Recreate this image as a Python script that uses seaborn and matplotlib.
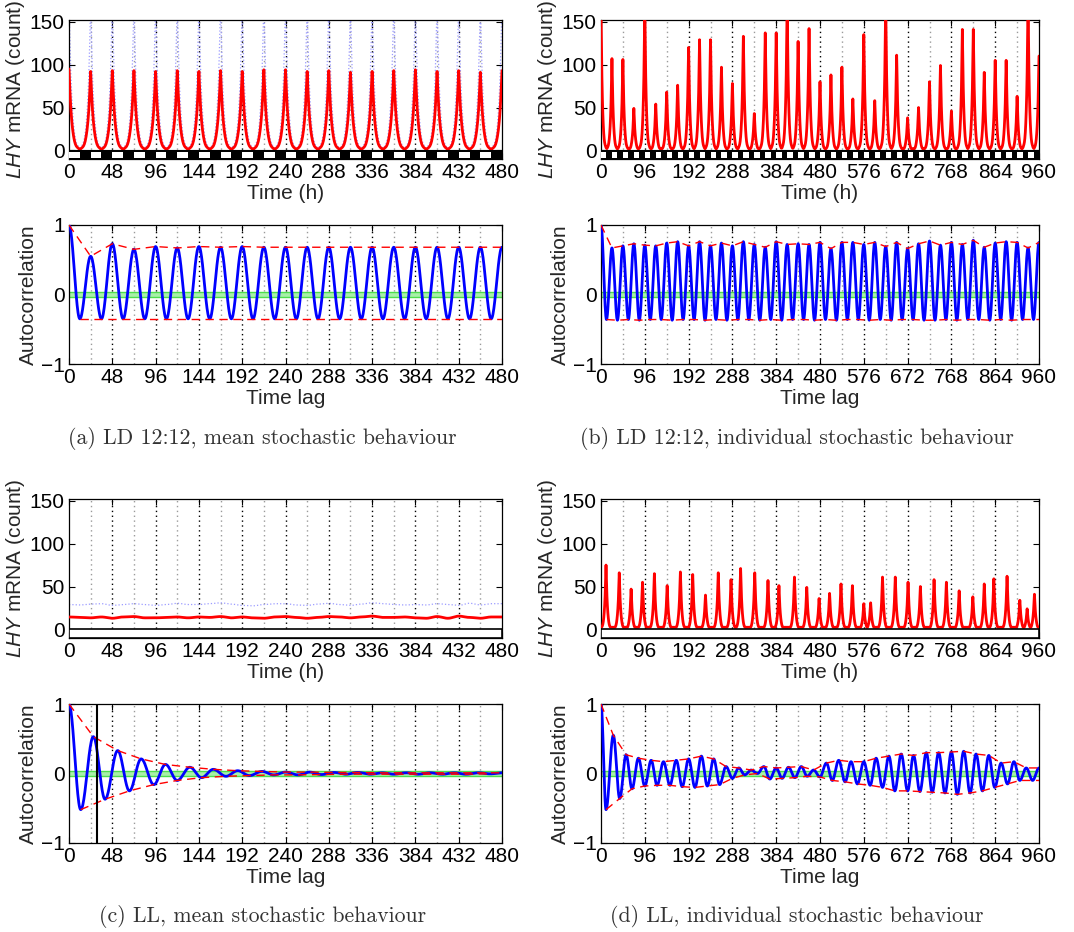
import numpy as np
import matplotlib
matplotlib.use("Agg")
import matplotlib.pyplot as plt
import seaborn as sns
from matplotlib.patches import Rectangle

sns.set_theme(style="white")
plt.rcParams["font.family"] = ["Liberation Sans", "DejaVu Sans"]
plt.rcParams["mathtext.fontset"] = "custom"
plt.rcParams["mathtext.rm"] = "Liberation Sans"
plt.rcParams["mathtext.it"] = "Liberation Sans:italic"

# ------------------------------------------------------------------ data
# one LHY spike, fraction of its peak, at 0..12 h from the peak
spike_offset_h = [0, 1, 2, 3, 4, 5, 6, 7, 8, 9, 10, 11, 12]
spike_shape = [1.0, 0.74, 0.52, 0.37, 0.26, 0.18, 0.12, 0.08, 0.055, 0.04, 0.03, 0.02, 0.015]

# (a) LD 12:12 mean
a_peak_t = list(range(0, 481, 24))
a_mean_peak = [95, 92, 93, 93, 92, 93, 92, 93, 92, 94, 94, 92, 93, 91, 92, 93, 94, 92, 93, 91, 93]
a_upper_peak = [175, 172, 174, 173, 172, 174, 172, 173, 172, 175, 174, 172, 173, 171, 172, 173, 174, 172, 173, 171, 173]
a_acf_peak_t = list(range(0, 481, 24))
a_acf_peak = [1.0, 0.55, 0.73, 0.65, 0.69, 0.67, 0.69, 0.68, 0.69, 0.68, 0.68,
              0.68, 0.68, 0.68, 0.68, 0.68, 0.68, 0.68, 0.68, 0.68, 0.68]
a_acf_trough_t = list(range(12, 480, 24))
a_acf_trough = [-0.35, -0.35, -0.35, -0.35, -0.35, -0.35, -0.35, -0.35, -0.35, -0.35,
                -0.35, -0.35, -0.35, -0.35, -0.35, -0.35, -0.35, -0.35, -0.35, -0.35]

# (b) LD 12:12 individual
b_peak_t = list(range(0, 961, 24))
b_peak = [165, 107, 106, 49, 168, 54, 68, 76, 120, 129, 129, 97, 78, 133, 43, 137, 137, 170,
          127, 142, 80, 88, 97, 60, 135, 58, 172, 111, 38, 50, 80, 99, 46, 141, 141, 91,
          105, 105, 63, 175, 110]
b_acf_peak_t = list(range(0, 961, 24))
b_acf_peak = [1.0, 0.67, 0.70, 0.73, 0.71, 0.70, 0.74, 0.76, 0.70, 0.76, 0.70, 0.74, 0.70, 0.76,
              0.72, 0.68, 0.76, 0.72, 0.73, 0.72, 0.75, 0.66, 0.75, 0.75, 0.72, 0.75, 0.69,
              0.75, 0.66, 0.73, 0.77, 0.71, 0.75, 0.72, 0.78, 0.68, 0.74, 0.76, 0.75, 0.67, 0.75]
b_acf_trough_t = list(range(12, 960, 24))
b_acf_trough = [-0.36, -0.37, -0.36, -0.37, -0.36, -0.36, -0.37, -0.36, -0.36, -0.37,
                -0.36, -0.37, -0.36, -0.36, -0.37, -0.36, -0.37, -0.36, -0.36, -0.37,
                -0.36, -0.37, -0.36, -0.36, -0.37, -0.36, -0.37, -0.36, -0.36, -0.37,
                -0.37, -0.36, -0.37, -0.36, -0.36, -0.37, -0.36, -0.37, -0.36, -0.36]

# (c) LL mean (sampled every 12 h)
c_t = list(range(0, 481, 12))
c_mean = [14.5, 14, 13.5, 14.5, 13, 14.5, 15, 13.5, 13.5, 14, 14.5, 13.5, 14.5, 14, 15, 13.5,
          14.5, 13.5, 13, 14.5, 15, 14, 13, 14, 15, 14.5, 13.5, 14.5, 15.5, 14, 14, 14.5,
          13.5, 13, 15, 13, 15.5, 14, 13, 14.5, 14.5]
c_upper = [29, 28.5, 29.5, 30, 28, 29, 30, 29, 28, 29, 30.5, 29, 29, 30, 31, 29.5, 28,
           27.5, 29, 30, 30, 28.5, 28, 29.5, 30.5, 29, 28, 29.5, 31, 30, 29, 28.5, 29,
           28.5, 30, 29, 28, 30.5, 28.5, 30, 30]
c_acf_t = [0, 13, 27, 40, 54, 67, 80, 94, 107, 120, 134, 147, 160, 174, 187, 200, 214, 227,
           240, 254, 267, 280, 294, 307, 320, 334, 347, 360, 374, 387, 400, 414, 427, 440,
           454, 467, 480]
c_acf = [1.0, -0.52, 0.53, -0.37, 0.33, -0.25, 0.21, -0.16, 0.13, -0.10, 0.09, -0.06, 0.06,
         -0.04, 0.04, -0.03, 0.03, -0.02, 0.02, -0.02, 0.02, -0.015, 0.015, -0.01, 0.015,
         -0.01, 0.01, -0.01, 0.01, -0.01, 0.01, -0.01, 0.01, -0.01, 0.01, -0.005, 0.01]
c_marker_lag = 31

# (d) LL individual
d_peak_t = [11, 40, 66, 91, 117, 145, 174, 201, 229, 257, 285, 306, 337, 366, 390, 424, 451,
            478, 501, 526, 551, 576, 591, 617, 645, 673, 700, 730, 757, 785, 815, 840, 861,
            890, 918, 934, 950]
d_peak = [75, 66, 47, 55, 65, 51, 67, 64, 40, 66, 58, 71, 66, 57, 51, 61, 49, 36, 42, 53, 51,
          30, 31, 61, 61, 55, 50, 58, 55, 45, 38, 53, 59, 62, 34, 24, 41]
d_floor = 2.5
d_acf_peak_t = [0, 27, 55, 82, 110, 137, 165, 192, 220, 247, 274, 302, 329, 357, 384, 411,
                439, 466, 494, 521, 548, 576, 603, 631, 658, 685, 713, 740, 768, 795, 822,
                850, 877, 905, 932, 960]
d_acf_peak = [1.0, 0.55, 0.27, 0.22, 0.19, 0.17, 0.19, 0.21, 0.25, 0.21, 0.10, 0.08, 0.05,
              0.10, 0.08, 0.09, 0.10, 0.05, 0.15, 0.19, 0.17, 0.17, 0.22, 0.25, 0.28, 0.26,
              0.30, 0.30, 0.31, 0.32, 0.28, 0.26, 0.15, 0.17, 0.08, 0.08]
d_acf_trough_t = [11, 41, 68, 96, 123, 151, 178, 206, 233, 260, 288, 315, 343, 370, 397, 425,
                  452, 480, 507, 535, 562, 590, 617, 644, 672, 699, 726, 754, 781, 809, 836,
                  863, 891, 918, 946]
d_acf_trough = [-0.52, -0.36, -0.22, -0.18, -0.17, -0.17, -0.19, -0.20, -0.18, -0.16, -0.07,
                -0.02, 0.0, -0.08, -0.07, -0.06, -0.04, -0.05, -0.10, -0.12, -0.15, -0.17,
                -0.20, -0.25, -0.25, -0.26, -0.27, -0.28, -0.30, -0.28, -0.25, -0.20, -0.15,
                -0.10, -0.10]

captions = ["(a) LD 12:12, mean stochastic behaviour",
            "(b) LD 12:12, individual stochastic behaviour",
            "(c) LL, mean stochastic behaviour",
            "(d) LL, individual stochastic behaviour"]

RED, BLUE, LBLUE = "#ff0000", "#0000ff", "#9c9cff"


# ------------------------------------------------------------------ helpers
def spikes(peak_t, peak_h, t_end, floor=0.0):
    t = np.arange(0, t_end + 1)
    y = np.full(t.shape, floor, dtype=float)
    shp = np.array(spike_shape)
    for tp, h in zip(peak_t, peak_h):
        d = np.abs(t - tp)
        m = d <= spike_offset_h[-1]
        y[m] = np.maximum(y[m], h * shp[d[m]])
    return t, y


def swing(ext_t, ext_v, n=24):
    ts, ys = [], []
    for t0, v0, t1, v1 in zip(ext_t[:-1], ext_v[:-1], ext_t[1:], ext_v[1:]):
        s = np.linspace(0, 1, n + 1)[:-1]
        ts.append(t0 + (t1 - t0) * s)
        ys.append(v0 + (v1 - v0) * (1 - np.cos(np.pi * s)) / 2)
    ts.append([ext_t[-1]])
    ys.append([ext_v[-1]])
    return np.concatenate(ts), np.concatenate(ys)


def merge(pt, pv, tt, tv):
    pairs = sorted(list(zip(pt, pv)) + list(zip(tt, tv)))
    return [p[0] for p in pairs], [p[1] for p in pairs]


def style(ax, xmax, major, top_row):
    ax.set_xlim(0, xmax)
    ax.set_xticks(list(range(0, xmax + 1, major)))
    for x in range(major // 2, xmax, major // 2):
        col = "black" if x % major == 0 else "#9a9a9a"
        ax.axvline(x, color=col, ls=(0, (1, 2.5)), lw=1.0, zorder=1)
    if top_row:
        ax.set_ylim(-10, 152)
        ax.set_yticks([0, 50, 100, 150])
    else:
        ax.set_ylim(-1, 1)
        ax.set_yticks([-1, 0, 1])
    ax.tick_params(direction="in", length=4, width=0.8, top=True, right=True,
                   bottom=True, left=True, colors="black", labelsize=15, pad=3)
    for sp in ax.spines.values():
        sp.set_color("black")
        sp.set_linewidth(0.9)
    ax.set_facecolor("white")


def ld_bar(ax, xmax):
    ax.add_patch(Rectangle((0, -10), xmax, 10, facecolor="black", edgecolor="black",
                           lw=0.8, zorder=4))
    for s in range(0, xmax, 24):
        ax.add_patch(Rectangle((s, -8.5), 12, 7, facecolor="white", edgecolor="none",
                               zorder=5))


def ll_bar(ax, xmax):
    ax.add_patch(Rectangle((0, -10), xmax, 10, facecolor="white", edgecolor="black",
                           lw=1.2, zorder=4))


def acf_common(ax, t_ext, v_ext, peaks_t, peaks_v, tr_t, tr_v):
    ax.axhspan(-0.03, 0.03, color="#a8f0a8", zorder=2, lw=0)
    ax.axhline(0.03, color="#4ddd4d", lw=1.0, zorder=2)
    ax.axhline(-0.03, color="#4ddd4d", lw=1.0, zorder=2)
    tt, yy = swing(t_ext, v_ext)
    sns.lineplot(x=tt, y=yy, ax=ax, color=BLUE, lw=2.0, zorder=3)
    sns.lineplot(x=peaks_t, y=peaks_v, ax=ax, color=RED, lw=1.0, ls=(0, (6, 4)), zorder=4)
    sns.lineplot(x=tr_t, y=tr_v, ax=ax, color=RED, lw=1.0, ls=(0, (6, 4)), zorder=4)
    ax.set_xlabel("Time lag", fontsize=15, labelpad=1.5)
    ax.set_ylabel("Autocorrelation", fontsize=15, labelpad=2)


# ------------------------------------------------------------------ figure
fig = plt.figure(figsize=(10.74, 9.32), dpi=100)
L = [69 / 1074, 601 / 1074]
W = [433 / 1074, 438 / 1074]
rows_y = [1 - 159 / 932, 1 - 364 / 932, 1 - 638 / 932, 1 - 843 / 932]
H = 139 / 932

ylab = r"$\mathit{LHY}$ mRNA (count)"

# (a) top
ax = fig.add_axes([L[0], rows_y[0], W[0], H])
style(ax, 480, 48, True)
t, y = spikes(a_peak_t, a_upper_peak, 480)
sns.lineplot(x=t, y=y, ax=ax, color=LBLUE, lw=0.9, ls=":", zorder=2)
t, y = spikes(a_peak_t, a_mean_peak, 480, floor=1.2)
sns.lineplot(x=t, y=y, ax=ax, color=RED, lw=2.0, zorder=3)
ld_bar(ax, 480)
ax.set_xlabel("Time (h)", fontsize=15, labelpad=1.5)
ax.set_ylabel(ylab, fontsize=15, labelpad=2)

# (a) bottom
ax = fig.add_axes([L[0], rows_y[1], W[0], H])
style(ax, 480, 48, False)
te, ve = merge(a_acf_peak_t, a_acf_peak, a_acf_trough_t, a_acf_trough)
acf_common(ax, te, ve, a_acf_peak_t, a_acf_peak, a_acf_trough_t + [480], a_acf_trough + [-0.35])

# (b) top
ax = fig.add_axes([L[1], rows_y[0], W[1], H])
style(ax, 960, 96, True)
t, y = spikes(b_peak_t, b_peak, 960, floor=2.0)
sns.lineplot(x=t, y=y, ax=ax, color=RED, lw=2.0, zorder=3)
ld_bar(ax, 960)
ax.set_xlabel("Time (h)", fontsize=15, labelpad=1.5)
ax.set_ylabel(ylab, fontsize=15, labelpad=2)

# (b) bottom
ax = fig.add_axes([L[1], rows_y[1], W[1], H])
style(ax, 960, 96, False)
te, ve = merge(b_acf_peak_t, b_acf_peak, b_acf_trough_t, b_acf_trough)
acf_common(ax, te, ve, b_acf_peak_t, b_acf_peak, b_acf_trough_t + [960], b_acf_trough + [-0.36])

# (c) top
ax = fig.add_axes([L[0], rows_y[2], W[0], H])
style(ax, 480, 48, True)
tt, yy = swing(c_t, c_upper)
sns.lineplot(x=tt, y=yy, ax=ax, color=LBLUE, lw=0.9, ls=":", zorder=2)
tt, yy = swing(c_t, c_mean)
sns.lineplot(x=tt, y=yy, ax=ax, color=RED, lw=2.0, zorder=3)
ll_bar(ax, 480)
ax.set_xlabel("Time (h)", fontsize=15, labelpad=1.5)
ax.set_ylabel(ylab, fontsize=15, labelpad=2)

# (c) bottom
ax = fig.add_axes([L[0], rows_y[3], W[0], H])
style(ax, 480, 48, False)
acf_common(ax, c_acf_t, c_acf, c_acf_t[0::2], c_acf[0::2], c_acf_t[1::2], c_acf[1::2])
ax.axvline(c_marker_lag, color="black", lw=1.5, zorder=5)

# (d) top
ax = fig.add_axes([L[1], rows_y[2], W[1], H])
style(ax, 960, 96, True)
t, y = spikes(d_peak_t, d_peak, 960, floor=d_floor)
sns.lineplot(x=t, y=y, ax=ax, color=RED, lw=2.0, zorder=3)
ll_bar(ax, 960)
ax.set_xlabel("Time (h)", fontsize=15, labelpad=1.5)
ax.set_ylabel(ylab, fontsize=15, labelpad=2)

# (d) bottom
ax = fig.add_axes([L[1], rows_y[3], W[1], H])
style(ax, 960, 96, False)
te, ve = merge(d_acf_peak_t, d_acf_peak, d_acf_trough_t, d_acf_trough)
acf_common(ax, te, ve, d_acf_peak_t, d_acf_peak, d_acf_trough_t + [960], d_acf_trough + [-0.10])

# captions
cap_kw = dict(ha="center", va="center", fontsize=15.7, color="#333333", family="cmr10")
fig.text(262 / 1074, 1 - 438 / 932, captions[0], **cap_kw)
fig.text(797 / 1074, 1 - 438 / 932, captions[1], **cap_kw)
fig.text(263 / 1074, 1 - 917 / 932, captions[2], **cap_kw)
fig.text(797 / 1074, 1 - 917 / 932, captions[3], **cap_kw)

fig.savefig("out.png", dpi=100, facecolor="white")
